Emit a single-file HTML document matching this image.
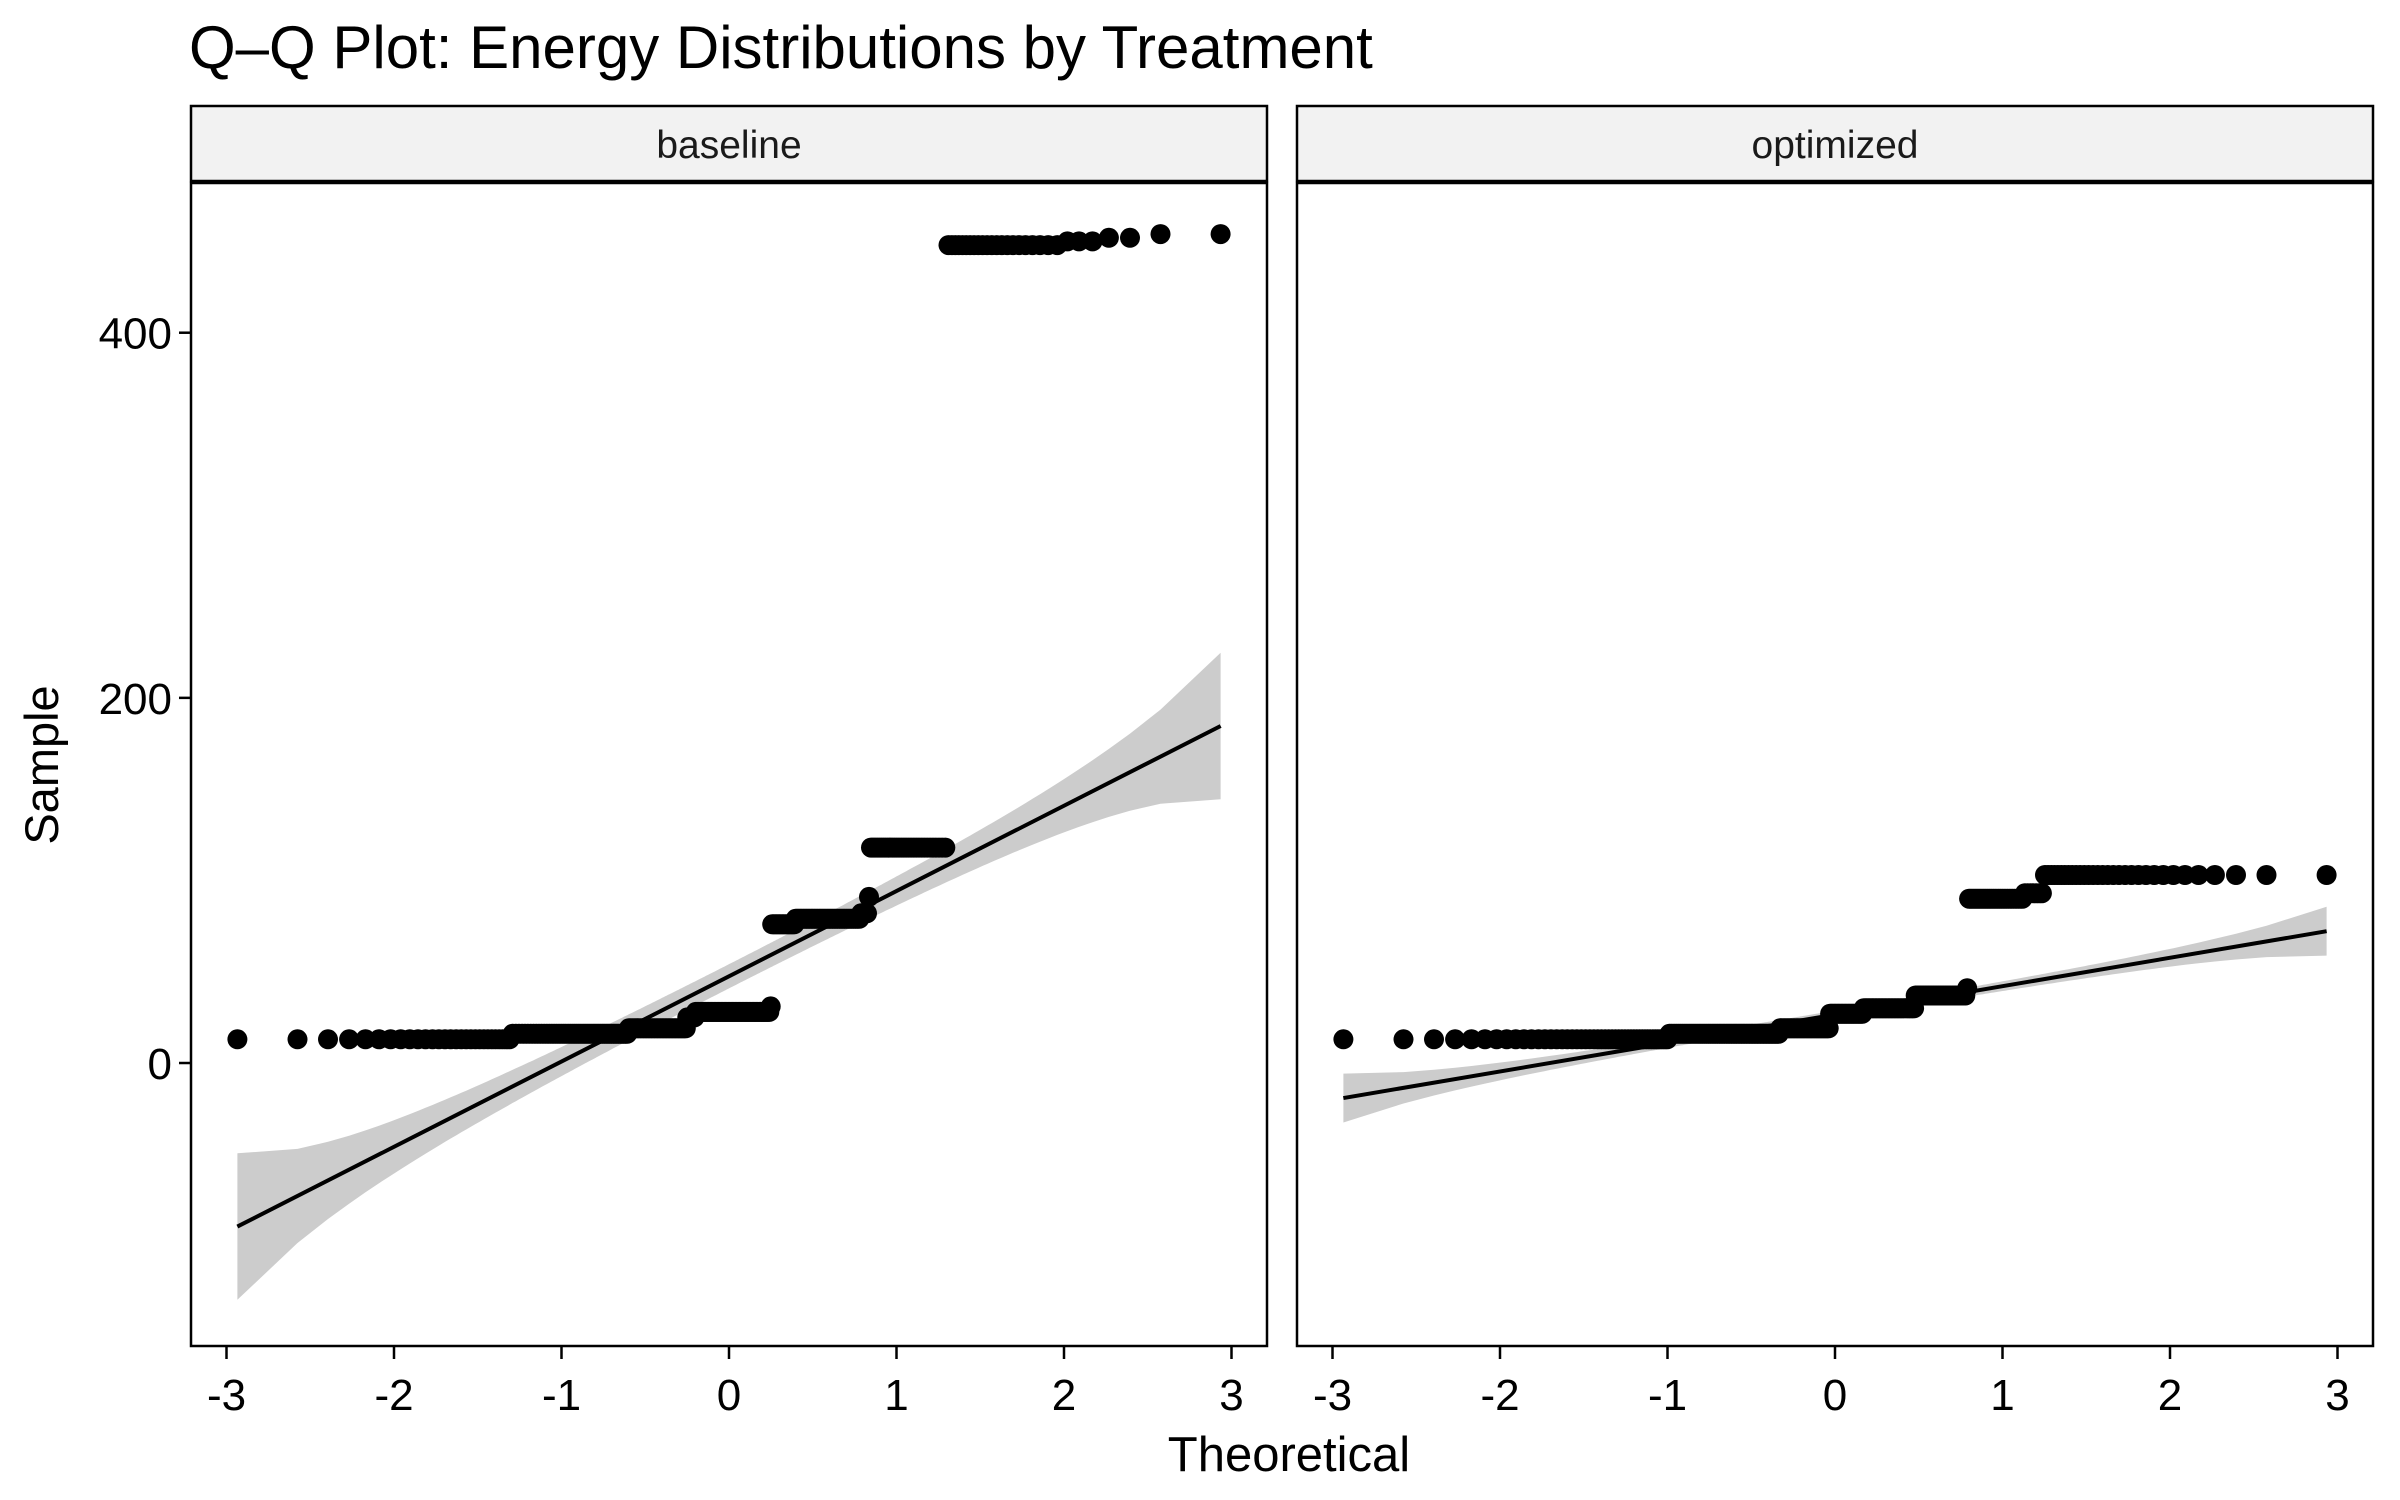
<!DOCTYPE html>
<html><head><meta charset="utf-8"><style>
html,body{margin:0;padding:0;background:#fff;}
svg{display:block;font-family:"Liberation Sans",Arial,sans-serif;}
</style></head><body>
<svg id="chart" width="2400" height="1500" viewBox="0 0 2400 1500">
<rect width="2400" height="1500" fill="#fff"/>
<text x="189" y="68" font-size="60" fill="#000">Q–Q Plot: Energy Distributions by Treatment</text>
<text x="1289" y="1471" font-size="49" text-anchor="middle" fill="#000">Theoretical</text>
<text transform="translate(58,765) rotate(-90)" font-size="47" text-anchor="middle" fill="#000">Sample</text>
<g id="panels"></g>
</svg>
<script>
// Data (run-length encoded sorted samples, n = 300 per panel)
const panelNames = ["baseline", "optimized"];
const baselineValues = [13, 16, 19, 25, 28, 31, 76, 79, 82, 91, 118, 448, 450, 452, 454];
const baselineCounts = [29, 53, 38, 6, 53, 1, 16, 39, 4, 1, 31, 22, 3, 2, 2];
const optimizedValues = [13, 16, 19, 27, 30, 37, 41, 90, 93, 103];
const optimizedCounts = [48, 63, 35, 24, 35, 30, 1, 25, 7, 32];
const xTicks = [-3, -2, -1, 0, 1, 2, 3];
const yTicks = [0, 200, 400];

const NS = "http://www.w3.org/2000/svg";
const panelTop = 183, panelBottom = 1346, panelW = 1076;
const panelLefts = [191, 1297];
const stripTop = 106, stripBottom = 181;
const yMin = -155, yMax = 482;
function yScale(v){ return panelBottom - (v - yMin) / (yMax - yMin) * (panelBottom - panelTop); }
function makeX(left){ const c = left + panelW / 2; return v => c + v * 167.5; }

function qnorm(p){
  const a=[-3.969683028665376e+01,2.209460984245205e+02,-2.759285104469687e+02,1.383577518672690e+02,-3.066479806614716e+01,2.506628277459239e+00];
  const b=[-5.447609879822406e+01,1.615858368580409e+02,-1.556989798598866e+02,6.680131188771972e+01,-1.328068155288572e+01];
  const c=[-7.784894002430293e-03,-3.223964580411365e-01,-2.400758277161838e+00,-2.549732539343734e+00,4.374664141464968e+00,2.938163982698783e+00];
  const d=[7.784695709041462e-03,3.224671290700398e-01,2.445134137142996e+00,3.754408661907416e+00];
  const pl=0.02425;let q,r;
  if(p<pl){q=Math.sqrt(-2*Math.log(p));return (((((c[0]*q+c[1])*q+c[2])*q+c[3])*q+c[4])*q+c[5])/((((d[0]*q+d[1])*q+d[2])*q+d[3])*q+1);}
  if(p>1-pl){q=Math.sqrt(-2*Math.log(1-p));return -(((((c[0]*q+c[1])*q+c[2])*q+c[3])*q+c[4])*q+c[5])/((((d[0]*q+d[1])*q+d[2])*q+d[3])*q+1);}
  q=p-0.5;r=q*q;return (((((a[0]*r+a[1])*r+a[2])*r+a[3])*r+a[4])*r+a[5])*q/(((((b[0]*r+b[1])*r+b[2])*r+b[3])*r+b[4])*r+1);
}
function dnorm(x){ return Math.exp(-x*x/2)/Math.sqrt(2*Math.PI); }
function expand(vals, counts){ const s=[]; vals.forEach((v,i)=>{ for(let k=0;k<counts[i];k++) s.push(v); }); return s.sort((a,b)=>a-b); }
function quantile(s,p){ const h=(s.length-1)*p, lo=Math.floor(h), hi=Math.ceil(h); return s[lo]+(h-lo)*(s[hi]-s[lo]); }
function el(tag, attrs, parent){ const e=document.createElementNS(NS,tag); for(const k in attrs) e.setAttribute(k,attrs[k]); parent.appendChild(e); return e; }

const root = document.getElementById("panels");
const datasets = [[baselineValues, baselineCounts], [optimizedValues, optimizedCounts]];

datasets.forEach((ds, pi) => {
  const left = panelLefts[pi], x = makeX(left);
  const sample = expand(ds[0], ds[1]);
  const n = sample.length;
  const theo = sample.map((_, i) => qnorm((i + 0.5) / n));
  const slope = (quantile(sample, 0.75) - quantile(sample, 0.25)) / (qnorm(0.75) - qnorm(0.25));
  const inter = quantile(sample, 0.25) - slope * qnorm(0.25);
  const g = el("g", {}, root);
  
  
  const cp = el("clipPath", {id: "clip" + pi}, g);
  el("rect", {x: left, y: panelTop, width: panelW, height: panelBottom - panelTop}, cp);
  const bg = el("rect", {x: left, y: panelTop, width: panelW, height: panelBottom - panelTop, fill: "#fff"}, g);
  
  
  const inner = el("g", {"clip-path": "url(#clip" + pi + ")"}, g);
  const z = 1.959964;
  const up = [], lo = [];
  theo.forEach((t, i) => {
    const p = (i + 0.5) / n;
    const se = slope / dnorm(t) * Math.sqrt(p * (1 - p) / n);
    const f = inter + slope * t;
    up.push(x(t).toFixed(1) + "," + yScale(f + z * se).toFixed(1));
    lo.push(x(t).toFixed(1) + "," + yScale(f - z * se).toFixed(1));
  });
  const band = el("polygon", {points: up.concat(lo.reverse()).join(" "), fill: "#cccccc"}, inner);
  
  
  theo.forEach((t, i) => {
    const c = el("circle", {cx: x(t).toFixed(1), cy: yScale(sample[i]).toFixed(1), r: 10, fill: "#000"}, inner);
    
    
  });
  const t0 = theo[0], t1 = theo[n - 1];
  const ln = el("line", {x1: x(t0), y1: yScale(inter + slope * t0), x2: x(t1), y2: yScale(inter + slope * t1), stroke: "#000", "stroke-width": 4}, inner);
  
  
  const border = el("rect", {x: left, y: panelTop, width: panelW, height: panelBottom - panelTop, fill: "none", stroke: "#000", "stroke-width": 2.5}, g);
  
  
  const strip = el("rect", {x: left, y: stripTop, width: panelW, height: stripBottom - stripTop, fill: "#f2f2f2", stroke: "#000", "stroke-width": 2.5}, g);
  
  
  const st = el("text", {x: left + panelW / 2, y: 158, "font-size": 39, "text-anchor": "middle", fill: "#1a1a1a"}, g);
  st.textContent = panelNames[pi];
  
  
  xTicks.forEach(v => {
    const tk = el("line", {x1: x(v), x2: x(v), y1: panelBottom, y2: panelBottom + 13, stroke: "#000", "stroke-width": 2.5}, g);
    
    
    const tl = el("text", {x: x(v), y: 1410, "font-size": 44, "text-anchor": "middle", fill: "#000"}, g);
    tl.textContent = v < 0 ? "-" + Math.abs(v) : String(v);
    
    
  });
  if (pi === 0) {
    yTicks.forEach(v => {
      const tk = el("line", {x1: left - 12, x2: left, y1: yScale(v), y2: yScale(v), stroke: "#000", "stroke-width": 2.5}, g);
      
      
      const tl = el("text", {x: left - 19, y: yScale(v) + 16, "font-size": 44, "text-anchor": "end", fill: "#000"}, g);
      tl.textContent = String(v);
      
      
    });
  }
});
</script>
</body></html>
